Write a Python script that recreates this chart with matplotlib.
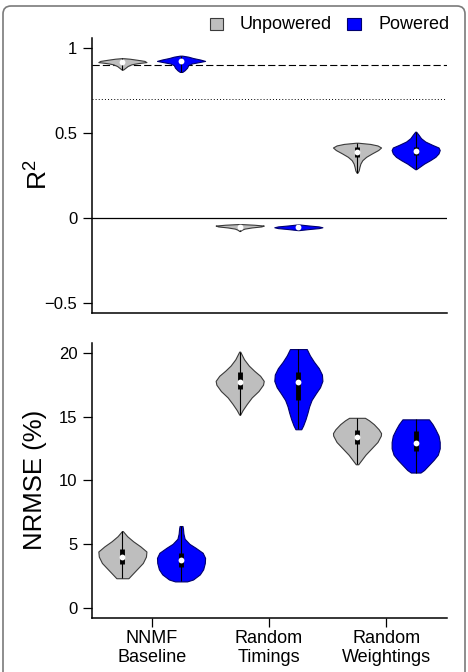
import numpy as np
import matplotlib
matplotlib.use("Agg")
import matplotlib.pyplot as plt
from matplotlib.patches import Rectangle, FancyBboxPatch

plt.rcParams['font.family'] = ['Liberation Sans', 'DejaVu Sans']
plt.rcParams['mathtext.fontset'] = 'custom'
plt.rcParams['mathtext.rm'] = 'Liberation Sans'
plt.rcParams['mathtext.it'] = 'Liberation Sans'

# ---------------- data ----------------
categories = ["NNMF\nBaseline", "Random\nTimings", "Random\nWeightings"]
groups = ["Unpowered", "Powered"]
group_colors = ["#BEBEBE", "#0000FF"]
group_edges = ["#3a3a3a", "#00006e"]

# R^2 violins: density profile (y levels, relative widths), quartiles, medians
r2_unp_coords = [
    [0.874, 0.885, 0.895, 0.905, 0.912, 0.918, 0.925, 0.932, 0.938, 0.941],
    [-0.077, -0.07, -0.063, -0.056, -0.050, -0.045, -0.040, -0.036],
    [0.267, 0.28, 0.30, 0.32, 0.34, 0.36, 0.38, 0.40, 0.415, 0.427, 0.436, 0.443],
]
r2_unp_vals = [
    [0.03, 0.13, 0.22, 0.38, 0.65, 1.0, 0.92, 0.6, 0.3, 0.05],
    [0.02, 0.08, 0.2, 0.5, 0.9, 1.0, 0.6, 0.05],
    [0.02, 0.07, 0.1, 0.14, 0.22, 0.38, 0.62, 0.88, 1.0, 0.85, 0.55, 0.05],
]
r2_pow_coords = [
    [0.86, 0.87, 0.885, 0.90, 0.91, 0.918, 0.925, 0.933, 0.942, 0.95, 0.956],
    [-0.072, -0.066, -0.060, -0.055, -0.050, -0.044, -0.038],
    [0.287, 0.30, 0.32, 0.34, 0.36, 0.38, 0.40, 0.415, 0.43, 0.45, 0.47, 0.49, 0.508],
]
r2_pow_vals = [
    [0.05, 0.15, 0.25, 0.3, 0.45, 0.75, 1.0, 0.8, 0.5, 0.3, 0.05],
    [0.02, 0.4, 0.85, 1.0, 0.85, 0.4, 0.02],
    [0.02, 0.15, 0.35, 0.6, 0.82, 0.95, 1.0, 0.95, 0.7, 0.4, 0.22, 0.12, 0.02],
]
r2_unp_q1 = [0.913, -0.057, 0.36]
r2_unp_med = [0.92, -0.053, 0.39]
r2_unp_q3 = [0.927, -0.049, 0.42]
r2_pow_q1 = [0.918, -0.058, 0.37]
r2_pow_med = [0.925, -0.055, 0.394]
r2_pow_q3 = [0.932, -0.052, 0.42]

# NRMSE (%) violins
nr_unp_coords = [
    [2.3, 2.5, 3.0, 3.5, 4.0, 4.4, 4.8, 5.2, 5.6, 6.0],
    [15.15, 15.5, 16.0, 16.5, 17.0, 17.5, 17.8, 18.2, 18.6, 19.0, 19.5, 20.1],
    [11.25, 11.5, 12.0, 12.5, 13.0, 13.5, 13.7, 14.0, 14.4, 14.7, 14.9],
]
nr_unp_vals = [
    [0.25, 0.35, 0.6, 0.85, 0.98, 1.0, 0.75, 0.45, 0.2, 0.02],
    [0.02, 0.12, 0.3, 0.5, 0.78, 0.97, 1.0, 0.85, 0.6, 0.38, 0.18, 0.02],
    [0.05, 0.15, 0.35, 0.6, 0.85, 0.99, 1.0, 0.9, 0.7, 0.5, 0.33],
]
nr_pow_coords = [
    [2.05, 2.2, 2.6, 3.0, 3.5, 3.9, 4.3, 4.7, 5.0, 5.4, 5.8, 6.2, 6.4],
    [14.0, 14.3, 14.8, 15.3, 15.8, 16.3, 16.8, 17.3, 17.8, 18.3, 18.8, 19.3, 19.8, 20.3],
    [10.6, 10.8, 11.2, 11.6, 12.0, 12.5, 13.0, 13.5, 14.0, 14.4, 14.78],
]
nr_pow_vals = [
    [0.25, 0.5, 0.78, 0.92, 0.99, 1.0, 0.9, 0.6, 0.35, 0.15, 0.1, 0.08, 0.06],
    [0.12, 0.2, 0.3, 0.38, 0.45, 0.55, 0.72, 0.9, 1.0, 0.98, 0.85, 0.65, 0.48, 0.35],
    [0.2, 0.35, 0.55, 0.75, 0.92, 1.0, 1.0, 0.95, 0.82, 0.7, 0.55],
]
nr_unp_q1 = [3.4, 17.2, 12.85]
nr_unp_med = [4.0, 17.75, 13.4]
nr_unp_q3 = [4.6, 18.5, 13.95]
nr_pow_q1 = [3.2, 16.3, 12.3]
nr_pow_med = [3.75, 17.7, 12.9]
nr_pow_q3 = [4.3, 18.5, 13.9]

r2_ticks = [-0.5, 0, 0.5, 1]
r2_ticklabels = ["\u22120.5", "0", "0.5", "1"]
nr_ticks = [0, 5, 10, 15, 20]

# ---------------- figure ----------------
W, H = 468, 672
fig = plt.figure(figsize=(W / 100, H / 100), dpi=100)

# outer rounded frame
frame = FancyBboxPatch((0.03, -0.5), 4.62, 7.16, boxstyle="round,pad=0,rounding_size=0.08",
                       transform=fig.dpi_scale_trans, fc="none", ec="#7a7a7a", lw=1.2)
fig.patches.append(frame)

ax1 = fig.add_axes([92 / W, 1 - 313 / H, 355 / W, 275 / H])
ax2 = fig.add_axes([92 / W, 1 - 617.7 / H, 355 / W, 275 / H])

offset = 0.25
vwidth = 0.41
xpos = np.arange(1, len(categories) + 1)


def draw_violin(ax, pos, coords, vals, q1, med, q3, fc, ec):
    st = [dict(coords=np.array(coords), vals=np.array(vals), mean=med, median=med,
               min=min(coords), max=max(coords))]
    parts = ax.violin(st, positions=[pos], widths=vwidth, showmeans=False,
                      showextrema=False, showmedians=False)
    for b in parts['bodies']:
        b.set_facecolor(fc)
        b.set_edgecolor(ec)
        b.set_alpha(1)
        b.set_linewidth(0.8)
        b.set_zorder(2)
    ax.vlines(pos, min(coords), max(coords), color="black", lw=0.8, zorder=3)
    ax.vlines(pos, q1, q3, color="black", lw=3.5, zorder=4)
    ax.plot([pos], [med], "o", color="white", ms=4.2, mec="none", zorder=5)


for i, x in enumerate(xpos):
    draw_violin(ax1, x - offset, r2_unp_coords[i], r2_unp_vals[i], r2_unp_q1[i], r2_unp_med[i],
                r2_unp_q3[i], group_colors[0], group_edges[0])
    draw_violin(ax1, x + offset, r2_pow_coords[i], r2_pow_vals[i], r2_pow_q1[i], r2_pow_med[i],
                r2_pow_q3[i], group_colors[1], group_edges[1])
    draw_violin(ax2, x - offset, nr_unp_coords[i], nr_unp_vals[i], nr_unp_q1[i], nr_unp_med[i],
                nr_unp_q3[i], group_colors[0], group_edges[0])
    draw_violin(ax2, x + offset, nr_pow_coords[i], nr_pow_vals[i], nr_pow_q1[i], nr_pow_med[i],
                nr_pow_q3[i], group_colors[1], group_edges[1])

ax1.axhline(0.9, color="black", lw=0.8, ls=(0, (6.5, 2.8)), zorder=1)
ax1.axhline(0.7, color="black", lw=0.7, ls=(0, (1, 2.2)), zorder=1)
ax1.axhline(0.0, color="black", lw=0.9, zorder=1)

for ax in (ax1, ax2):
    ax.set_xlim(0.491, 3.517)
    for s in ("top", "right"):
        ax.spines[s].set_visible(False)
    for s in ("left", "bottom"):
        ax.spines[s].set_linewidth(1.1)
    ax.tick_params(axis="both", direction="out", length=6.5, width=0.9, labelsize=12, pad=4)

ax1.set_ylim(-0.56, 1.06)
ax1.set_yticks(r2_ticks)
ax1.set_yticklabels(r2_ticklabels)
ax1.set_xticks([])

ax2.set_ylim(-0.8, 20.8)
ax2.set_yticks(nr_ticks)
ax2.set_xticks(xpos)
ax2.set_xticklabels(categories, fontsize=13, linespacing=1.2)
ax2.tick_params(axis="x", pad=2)

fig.text(39 / W, 1 - 175 / H, "R$^2$", rotation=90, ha="center", va="center", fontsize=19)
fig.text(35 / W, 1 - 480 / H, "NRMSE (%)", rotation=90, ha="center", va="center", fontsize=18.5)

# legend
leg_x = [209.5, 347.0]
leg_tx = [240.0, 378.0]
for i, g in enumerate(groups):
    fig.patches.append(Rectangle((leg_x[i] / W, 1 - 30 / H), 13.5 / W, 12 / H, fc=group_colors[i],
                                 ec=group_edges[i], lw=0.8, transform=fig.transFigure))
    fig.text(leg_tx[i] / W, 1 - 24.5 / H, g, ha="left", va="center", fontsize=13)

fig.savefig("out.png", dpi=100)
